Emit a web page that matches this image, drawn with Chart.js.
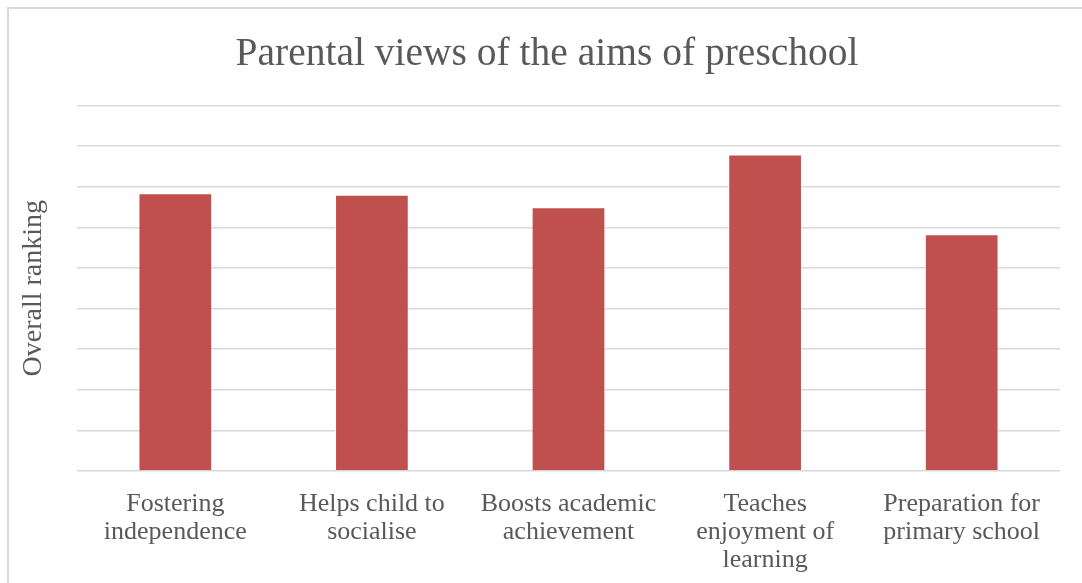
<!DOCTYPE html>
<html>
<head>
<meta charset="utf-8">
<script src="https://cdn.jsdelivr.net/npm/chart.js@4"></script>
<style>
  html, body { margin: 0; padding: 0; background: #fff; overflow: hidden; }
  #frame {
    position: absolute; left: 7px; top: 7px; width: 1100px; height: 600px;
    border: 2px solid #d9d9d9; box-sizing: border-box;
  }
  #wrap { position: absolute; left: 0; top: 0; width: 1082px; height: 583px; }
</style>
</head>
<body>
<div id="frame"></div>
<div id="wrap"><canvas id="chart"></canvas></div>
<script>
  const categories = [
    ["Fostering", "independence"],
    ["Helps child to", "socialise"],
    ["Boosts academic", "achievement"],
    ["Teaches", "enjoyment of", "learning"],
    ["Preparation for", "primary school"],
  ];
  const rankings = [6.84, 6.8, 6.49, 7.79, 5.83];

  const textColor = "#595959";
  const gridColor = "#d9d9d9";
  const serif = "'Liberation Serif', 'Times New Roman', serif";

  const ctx = document.getElementById("chart").getContext("2d");
  new Chart(ctx, {
    type: "bar",
    data: {
      labels: categories,
      datasets: [{
        label: "Overall ranking",
        data: rankings,
        backgroundColor: "#c0504d",
        borderColor: "rgba(255,255,255,0.5)",
        borderWidth: 1,
        barPercentage: 0.75,
        categoryPercentage: 0.5,
      }],
    },
    options: {
      animation: false,
      responsive: true,
      maintainAspectRatio: false,
      layout: { padding: { left: 34, right: 22, top: 0, bottom: 0 } },
      plugins: {
        legend: { display: false },
        tooltip: { enabled: false },
        title: {
          display: true,
          text: "Parental views of the aims of preschool",
          color: textColor,
          font: { family: serif, size: 39.5, weight: "normal" },
          padding: { top: 31, bottom: 27 },
        },
      },
      scales: {
        x: {
          grid: { display: false },
          border: { display: false },
          ticks: {
            color: textColor,
            font: { family: serif, size: 26, lineHeight: 1.08 },
            maxRotation: 0,
            autoSkip: false,
            padding: 11,
          },
          afterFit: (scale) => { scale.height = 112; },
        },
        y: {
          min: 0,
          max: 9,
          ticks: { stepSize: 1, display: false },
          border: { display: false },
          grid: { color: gridColor, lineWidth: 1.5, drawTicks: false },
          title: {
            display: true,
            text: "Overall ranking",
            color: textColor,
            font: { family: serif, size: 28 },
            padding: { top: -17, bottom: 0 },
          },
          afterFit: (scale) => { scale.width = 43; },
        },
      },
    },
  });
</script>
</body>
</html>
